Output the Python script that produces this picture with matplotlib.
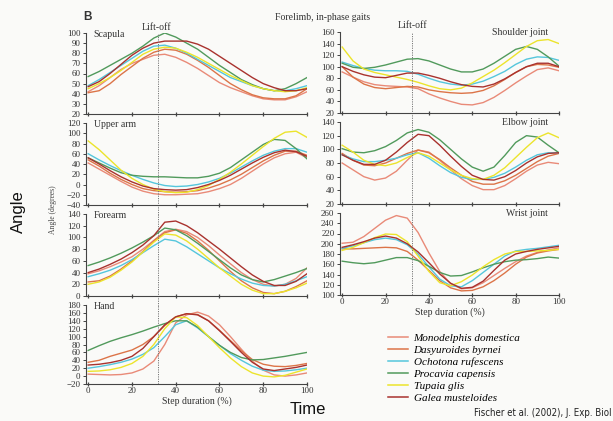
import matplotlib
matplotlib.use('Agg')
import matplotlib.pyplot as plt
from matplotlib.lines import Line2D

plt.rcParams['font.family'] = 'Liberation Serif'

step = [0, 5, 10, 15, 20, 25, 30, 35, 40, 45, 50, 55, 60, 65, 70, 75, 80, 85, 90, 95, 100]
lift_off = 32

species = ['Monodelphis domestica', 'Dasyuroides byrnei', 'Ochotona rufescens',
           'Procavia capensis', 'Tupaia glis', 'Galea musteloides']
colors = ['#e98a78', '#dc7448', '#55c6dc', '#519a5c', '#ece42c', '#a9322e']

# scapula
scap_mono = [42, 48, 56, 64, 70, 74, 78, 79, 76, 71, 65, 58, 51, 46, 42, 38, 35, 34, 34, 37, 42]
scap_dasy = [41, 43, 50, 59, 67, 75, 81, 84, 83, 79, 73, 66, 58, 50, 44, 39, 36, 35, 35, 38, 45]
scap_ocho = [48, 54, 61, 68, 75, 82, 87, 88, 85, 80, 74, 68, 62, 56, 52, 48, 45, 43, 43, 45, 48]
scap_proc = [57, 62, 68, 74, 80, 87, 95, 100, 96, 90, 84, 76, 68, 61, 54, 49, 45, 43, 45, 50, 56]
scap_tupa = [45, 50, 56, 63, 71, 79, 84, 86, 85, 81, 76, 70, 64, 58, 53, 48, 45, 43, 42, 43, 46]
scap_galea = [47, 52, 60, 69, 78, 85, 90, 92, 92, 92, 89, 84, 77, 70, 63, 56, 50, 46, 43, 43, 45]

# upper arm
uarm_mono = [42, 30, 18, 6, -5, -13, -18, -20, -20, -19, -18, -14, -8, 0, 12, 26, 40, 52, 60, 63, 52]
uarm_dasy = [48, 36, 22, 10, 0, -8, -12, -14, -15, -14, -12, -7, 0, 9, 20, 33, 46, 57, 65, 65, 57]
uarm_ocho = [60, 48, 37, 27, 18, 10, 3, -2, -4, -3, 0, 5, 12, 22, 34, 46, 57, 65, 70, 70, 63]
uarm_proc = [52, 42, 32, 23, 18, 16, 15, 15, 14, 13, 13, 16, 22, 33, 48, 63, 78, 88, 86, 70, 50]
uarm_tupa = [85, 68, 48, 28, 12, 0, -9, -14, -16, -15, -10, -2, 10, 24, 40, 57, 74, 90, 102, 104, 92]
uarm_galea = [52, 40, 27, 15, 5, -3, -8, -10, -11, -10, -6, 0, 8, 18, 30, 42, 53, 62, 67, 64, 55]

# forearm
farm_mono = [38, 43, 50, 58, 67, 80, 95, 110, 114, 110, 100, 86, 70, 55, 40, 28, 20, 17, 20, 30, 48]
farm_dasy = [24, 26, 34, 46, 60, 76, 94, 108, 113, 107, 94, 78, 60, 42, 26, 14, 6, 4, 8, 16, 26]
farm_ocho = [33, 38, 44, 52, 62, 74, 86, 97, 94, 84, 72, 60, 48, 38, 29, 22, 18, 17, 20, 26, 33]
farm_proc = [52, 58, 65, 73, 82, 92, 103, 116, 113, 103, 90, 76, 62, 48, 36, 28, 24, 28, 34, 40, 47]
farm_tupa = [20, 24, 32, 44, 58, 75, 92, 106, 104, 94, 80, 64, 48, 34, 20, 10, 4, 4, 8, 14, 22]
farm_galea = [40, 46, 54, 63, 74, 87, 103, 126, 128, 120, 108, 94, 80, 65, 50, 36, 25, 18, 18, 25, 38]

# hand
hand_mono = [5, 4, 3, 4, 8, 18, 38, 80, 135, 155, 162, 152, 130, 100, 68, 38, 15, 3, 0, 3, 8]
hand_dasy = [35, 40, 50, 58, 66, 80, 100, 128, 150, 158, 156, 140, 116, 90, 64, 42, 30, 25, 24, 27, 32]
hand_ocho = [20, 24, 29, 35, 43, 55, 72, 100, 130, 140, 122, 100, 78, 57, 40, 25, 15, 12, 13, 16, 20]
hand_proc = [65, 77, 88, 97, 105, 114, 124, 133, 140, 140, 124, 100, 78, 60, 47, 41, 42, 46, 50, 55, 60]
hand_tupa = [12, 13, 16, 22, 32, 50, 80, 120, 150, 148, 128, 100, 72, 46, 24, 8, 0, -2, 2, 10, 18]
hand_galea = [28, 30, 34, 40, 50, 70, 100, 130, 150, 158, 155, 140, 115, 88, 60, 35, 18, 14, 18, 22, 28]

# shoulder joint
shou_mono = [91, 82, 74, 69, 67, 66, 65, 62, 53, 46, 40, 35, 34, 38, 47, 59, 72, 84, 95, 98, 93]
shou_dasy = [100, 82, 70, 64, 62, 64, 66, 65, 60, 57, 55, 54, 55, 59, 67, 78, 90, 100, 104, 103, 99]
shou_ocho = [108, 102, 97, 94, 93, 93, 92, 87, 80, 74, 70, 68, 70, 75, 83, 92, 104, 113, 117, 116, 111]
shou_proc = [106, 99, 97, 99, 103, 108, 113, 114, 110, 103, 96, 91, 91, 96, 106, 118, 130, 135, 130, 117, 101]
shou_tupa = [134, 110, 96, 90, 86, 82, 78, 73, 67, 62, 60, 63, 72, 83, 94, 107, 121, 135, 145, 147, 140]
shou_galea = [100, 92, 86, 82, 81, 85, 89, 89, 85, 80, 74, 69, 66, 65, 70, 79, 90, 100, 106, 106, 100]

# elbow joint
elb_mono = [80, 70, 60, 55, 58, 68, 84, 99, 96, 84, 70, 57, 47, 41, 41, 47, 57, 68, 77, 81, 79]
elb_dasy = [94, 84, 77, 76, 80, 87, 94, 99, 95, 85, 73, 62, 53, 49, 49, 54, 62, 72, 82, 90, 94]
elb_ocho = [92, 86, 82, 82, 84, 87, 92, 95, 87, 76, 66, 59, 56, 56, 59, 65, 74, 84, 92, 95, 95]
elb_proc = [101, 96, 95, 98, 104, 113, 124, 129, 125, 114, 100, 86, 74, 68, 74, 91, 110, 120, 118, 106, 95]
elb_tupa = [106, 96, 84, 78, 76, 80, 88, 95, 90, 80, 70, 62, 57, 56, 62, 73, 88, 103, 117, 124, 117]
elb_galea = [92, 84, 78, 78, 84, 96, 110, 122, 120, 106, 90, 75, 62, 56, 55, 60, 69, 80, 89, 94, 95]

# wrist joint
wri_mono = [201, 203, 214, 230, 246, 255, 250, 222, 182, 146, 122, 112, 114, 124, 138, 152, 165, 176, 183, 188, 192]
wri_dasy = [190, 190, 191, 192, 193, 192, 185, 168, 148, 128, 114, 108, 109, 116, 128, 143, 160, 174, 182, 186, 189]
wri_ocho = [191, 196, 202, 208, 211, 208, 198, 180, 155, 131, 118, 116, 128, 144, 160, 176, 186, 189, 191, 194, 197]
wri_proc = [166, 163, 161, 163, 168, 173, 173, 167, 156, 144, 137, 138, 145, 153, 160, 165, 168, 169, 171, 174, 172]
wri_tupa = [187, 193, 202, 212, 219, 218, 204, 176, 146, 124, 118, 126, 139, 155, 169, 180, 185, 185, 186, 187, 189]
wri_galea = [193, 198, 204, 211, 215, 211, 200, 184, 163, 141, 123, 113, 115, 127, 148, 168, 180, 185, 189, 192, 195]

W, H = 613, 421
fig = plt.figure(figsize=(W / 100, H / 100), dpi=100, facecolor='#fafaf8')


def px(x, y):
    return x / W, 1 - y / H


def panel(left, top, bottom, width, curves, ylim, ystep, name, right_label, xlabels):
    ax = fig.add_axes([left / W, 1 - bottom / H, width / W, (bottom - top) / H])
    ax.set_facecolor('none')
    for c, col in zip(curves, colors):
        ax.plot(step, c, color=col, lw=1.0)
    ax.axvline(lift_off, color='#777777', lw=0.7, ls=(0, (1.2, 1.2)),
               ymin=0 if xlabels else -0.12, ymax=1, clip_on=False)
    ax.set_xlim(-1, 100)
    ax.set_ylim(*ylim)
    ax.set_yticks(range(ylim[0], ylim[1] + 1, ystep))
    ax.set_xticks(range(0, 101, 20))
    if not xlabels:
        ax.set_xticklabels([])
    else:
        ax.set_xlabel('Step duration (%)', fontsize=7, labelpad=1, color='#333333')
    for s in ['top', 'right']:
        ax.spines[s].set_visible(False)
    for s in ['left', 'bottom']:
        ax.spines[s].set_color('#444444')
        ax.spines[s].set_linewidth(0.8)
    ax.tick_params(axis='y', length=2.5, width=0.7, pad=1.5, labelsize=6.5,
                   colors='#444444', labelcolor='#333333')
    ax.tick_params(axis='x', length=2.5, width=0.9, pad=1, labelsize=6.5,
                   direction='inout', colors='#444444', labelcolor='#333333')
    if right_label:
        ax.text(0.95, 0.99, name, transform=ax.transAxes, ha='right', va='center',
                fontsize=7, color='#333333')
    else:
        ax.text(0.035, 0.98, name, transform=ax.transAxes, ha='left', va='center',
                fontsize=7, color='#333333')
    return ax


L0, LW = 86, 221
R0, RW = 340, 219

panel(L0, 33, 114, LW, [scap_mono, scap_dasy, scap_ocho, scap_proc, scap_tupa, scap_galea],
      (20, 100), 10, 'Scapula', False, False)
panel(L0, 123, 205, LW, [uarm_mono, uarm_dasy, uarm_ocho, uarm_proc, uarm_tupa, uarm_galea],
      (-40, 120), 20, 'Upper arm', False, False)
panel(L0, 214, 296, LW, [farm_mono, farm_dasy, farm_ocho, farm_proc, farm_tupa, farm_galea],
      (0, 140), 20, 'Forearm', False, False)
hand = panel(L0, 305, 384, LW, [hand_mono, hand_dasy, hand_ocho, hand_proc, hand_tupa, hand_galea],
             (-20, 180), 20, 'Hand', False, True)
panel(R0, 32, 113, RW, [shou_mono, shou_dasy, shou_ocho, shou_proc, shou_tupa, shou_galea],
      (20, 160), 20, 'Shoulder joint', True, False)
panel(R0, 122, 204, RW, [elb_mono, elb_dasy, elb_ocho, elb_proc, elb_tupa, elb_galea],
      (20, 140), 20, 'Elbow joint', True, False)
panel(R0, 213, 295, RW, [wri_mono, wri_dasy, wri_ocho, wri_proc, wri_tupa, wri_galea],
      (100, 260), 20, 'Wrist joint', True, True)

# titles and annotations
fig.text(*px(83, 17), 'B', family='Liberation Sans', fontweight='bold', fontsize=8.5,
         ha='left', va='center', color='#333333')
fig.text(*px(323, 18), 'Forelimb, in-phase gaits', fontsize=7, ha='center', va='center',
         color='#333333')
fig.text(*px(156, 28), 'Lift-off', fontsize=7, ha='center', va='center', color='#333333')
fig.text(*px(412, 26), 'Lift-off', fontsize=7, ha='center', va='center', color='#333333')
fig.text(*px(53, 210), 'Angle (degrees)', fontsize=5.5, rotation=90, ha='center',
         va='center', color='#444444')
fig.text(*px(18, 212), 'Angle', family='Liberation Sans', fontsize=12, rotation=90,
         ha='center', va='center', color='#111111')
fig.text(*px(308, 410), 'Time', family='Liberation Sans', fontsize=12, ha='center',
         va='center', color='#111111')
fig.text(*px(612, 413), 'Fischer et al. (2002), J. Exp. Biol',
         family='DejaVu Sans', fontstretch='condensed', fontsize=6.9,
         ha='right', va='center', color='#222222')

handles = [Line2D([], [], color=c, lw=1.1) for c in colors]
fig.legend(handles, species, loc='upper left', bbox_to_anchor=px(388, 333),
           frameon=False, handlelength=1.8, handletextpad=0.5, labelspacing=0.2,
           borderaxespad=0, borderpad=0,
           prop={'family': 'Liberation Serif', 'style': 'italic', 'size': 8})

fig.savefig('out.png', dpi=100, facecolor=fig.get_facecolor())
